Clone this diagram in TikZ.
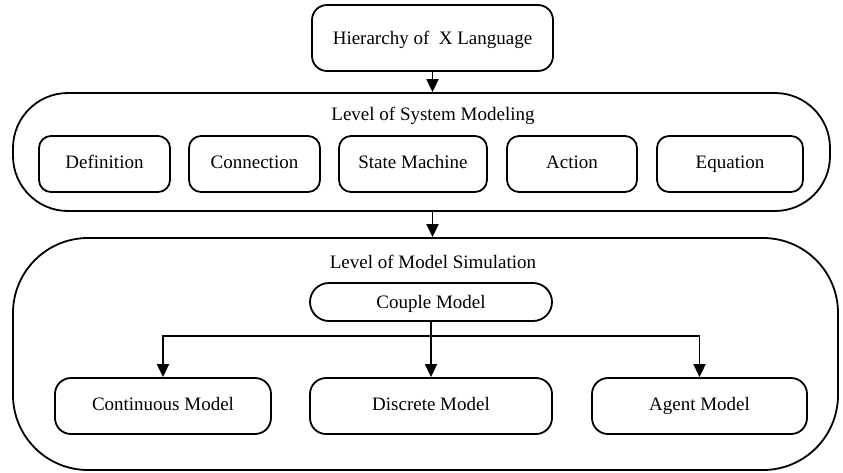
\documentclass[tikz,border=0pt]{standalone}
\usepackage{fontspec}
\setmainfont{Liberation Serif}
\usetikzlibrary{arrows.meta,calc}
\begin{document}
\begin{tikzpicture}[x=1pt,y=-1pt,
  every node/.style={font=\fontsize{19}{22}\selectfont},
  box/.style={draw,line width=1.8pt,rounded corners=#1,inner sep=0pt,text height=13pt,text depth=4pt},
  arr/.style={line width=1.8pt,-{Triangle[length=13pt,width=12pt]}},
  lbl/.style={inner sep=0pt,text height=13pt,text depth=4pt}]
\useasboundingbox (0,0) rectangle (843,472);
% containers
\node[box=55pt,minimum width=817pt,minimum height=118pt] (sys) at (421.5,152) {};
\node[box=75pt,minimum width=825pt,minimum height=232pt] (sim) at (425.5,354) {};
\node[box=15pt,minimum width=241pt,minimum height=66pt,text depth=0pt] (top) at (432.5,38) {Hierarchy of \ X Language};
\node[lbl] (sysl) at (433,115.5) {Level of System Modeling};
\node[lbl] (siml) at (433,264) {Level of Model Simulation};
% system modeling items
\node[box=12pt,minimum width=131pt,minimum height=56pt] (def) at (104.5,164) {Definition};
\node[box=12pt,minimum width=131pt,minimum height=56pt] (con) at (254.5,164) {Connection};
\node[box=12pt,minimum width=148pt,minimum height=56pt] (sm) at (413,164) {State Machine};
\node[box=12pt,minimum width=130pt,minimum height=56pt] (act) at (572,164) {Action};
\node[box=12pt,minimum width=146pt,minimum height=56pt] (eq) at (730,164) {Equation};
% simulation items
\node[box=19pt,minimum width=242pt,minimum height=38pt,text depth=0.5pt] (cpl) at (431,302) {Couple Model};
\node[box=16pt,minimum width=216pt,minimum height=56pt] (cont) at (163,406) {Continuous Model};
\node[box=16pt,minimum width=242pt,minimum height=56pt] (disc) at (431,406) {Discrete Model};
\node[box=16pt,minimum width=215pt,minimum height=56pt] (agent) at (699.5,406) {Agent Model};
% connectors
\draw[arr] (top.south) -- (top.south |- sys.north);
\draw[arr] (top.south |- sys.south) -- (top.south |- sim.north);
\draw[arr] (cpl.south) -- (disc.north);
\draw[arr] (cpl.south) -- ++(0,14) -| (cont.north);
\draw[arr] (cpl.south) -- ++(0,14) -| (agent.north);
\end{tikzpicture}
\end{document}
